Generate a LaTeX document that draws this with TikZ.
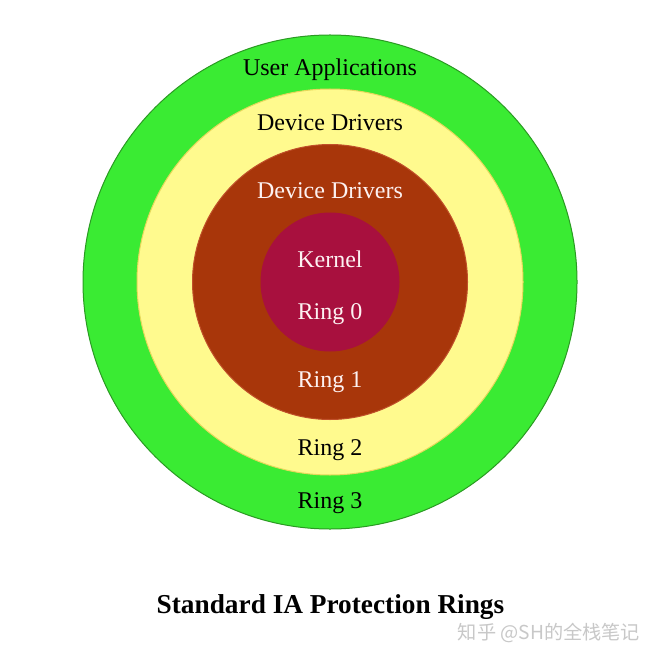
\documentclass[tikz,border=0pt]{standalone}
\usepackage{fontspec}
\setmainfont{Liberation Serif}
\newfontfamily\cjk{Noto Sans CJK SC}
\definecolor{ringgreen}{HTML}{3AEB33}
\definecolor{ringgreenedge}{HTML}{2A9A22}
\definecolor{ringyellow}{HTML}{FFFA8E}
\definecolor{ringyellowedge}{HTML}{E6D85A}
\definecolor{ringbrown}{HTML}{A8360A}
\definecolor{ringbrownedge}{HTML}{C0502A}
\definecolor{ringkernel}{HTML}{A8103E}
\definecolor{lighttext}{HTML}{FDF2F2}
\definecolor{wmgray}{HTML}{C8C8C8}
\begin{document}
\begin{tikzpicture}[x=1pt,y=-1pt,
  ring/.style={circle, inner sep=0pt, line width=1pt},
  lbl/.style={font=\fontsize{24}{28}\selectfont, inner sep=0pt},
  darklbl/.style={lbl, text=black},
  lightlbl/.style={lbl, text=lighttext}]
\useasboundingbox (0,0) rectangle (660,660);
\fill[white] (0,0) rectangle (660,660);
\node[ring, minimum size=494pt, fill=ringgreen, draw=ringgreenedge] (r3) at (330,282) {};
\node[ring, minimum size=386pt, fill=ringyellow, draw=ringyellowedge] (r2) at (330,282) {};
\node[ring, minimum size=275pt, fill=ringbrown, draw=ringbrownedge] (r1) at (330,282) {};
\node[ring, minimum size=138pt, fill=ringkernel, draw=ringkernel] (r0) at (330,282) {};
\node[darklbl] (ua) at (330,70) {User Applications};
\node[darklbl] (dd2) at (330,123) {Device Drivers};
\node[lightlbl] (dd1) at (330,191) {Device Drivers};
\node[lightlbl] (kern) at (330,259) {Kernel};
\node[lightlbl] (ring0) at (330,314) {Ring 0};
\node[lightlbl] (ring1) at (330,382) {Ring 1};
\node[darklbl] (ring2) at (330,450) {Ring 2};
\node[darklbl] (ring3) at (330,503) {Ring 3};
\node[font=\fontsize{27.3}{32}\selectfont\bfseries, inner sep=0pt] (title) at (330.5,607) {Standard IA Protection Rings};
\node[font=\fontsize{19.2}{22}\selectfont\cjk, text=wmgray, inner sep=0pt] (wm) at (549,633) {知乎 @SH的全栈笔记};
\end{tikzpicture}
\end{document}
